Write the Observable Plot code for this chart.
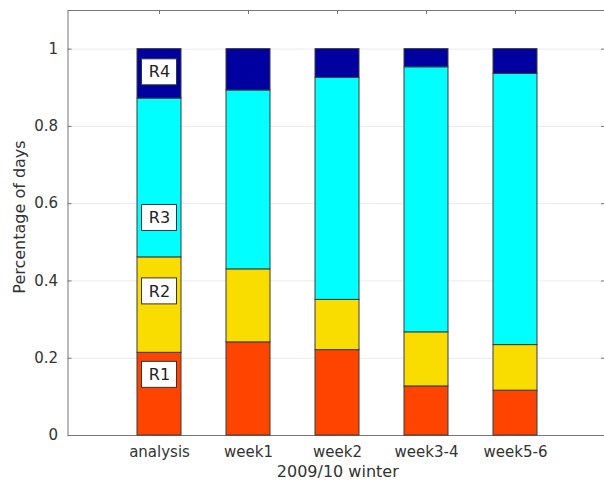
<!DOCTYPE html>
<html>
<head>
<meta charset="utf-8">
<script src="https://cdn.jsdelivr.net/npm/d3@7"></script>
<script src="https://cdn.jsdelivr.net/npm/@observablehq/plot@0.6"></script>
<style>
  html, body { margin: 0; padding: 0; background: #fff; overflow: hidden; }
</style>
</head>
<body>
<div id="chart"></div>
<script>
// Forecast periods of the 2009/10 winter
const periods = ["analysis", "week1", "week2", "week3-4", "week5-6"];

// Weather regimes, stacked from the bottom up
const regimes = ["R1", "R2", "R3", "R4"];
const regimeColors = ["#ff4400", "#f9dd00", "#00ffff", "#0000a0"];

// Fraction of days spent in each regime, per period
const shareR1 = [0.214, 0.241, 0.221, 0.127, 0.116];
const shareR2 = [0.247, 0.189, 0.130, 0.140, 0.118];
const shareR3 = [0.411, 0.463, 0.575, 0.686, 0.702];
const shareR4 = [0.128, 0.107, 0.074, 0.047, 0.064];

// Where the regime names sit on the analysis bar
const labelPositions = [0.157, 0.373, 0.563, 0.940];

// Y axis ticks
const yTicks = [0, 0.2, 0.4, 0.6, 0.8, 1];
const yTickLabels = ["0", "0.2", "0.4", "0.6", "0.8", "1"];
const yMax = 1.1;

const shares = [shareR1, shareR2, shareR3, shareR4];
const rows = [];
periods.forEach((p, i) => {
  regimes.forEach((r, j) => rows.push({period: p, regime: r, share: shares[j][i]}));
});
const labelRows = regimes.map((r, j) => ({period: periods[0], regime: r, y: labelPositions[j]}));

const W = 604, H = 480;
const M = {left: 67.5, right: 0, top: 10, bottom: 45};
const frameW = W - M.left - M.right;
const axisGray = "#777";

// The axes box continues past the right edge of the page, so its right side
// lies outside the SVG.
const chart = Plot.plot({
  width: W,
  height: H,
  marginLeft: M.left,
  marginRight: M.right,
  marginTop: M.top,
  marginBottom: M.bottom,
  style: {
    fontFamily: "DejaVu Sans",
    fontSize: "15px",
    color: "#333",
    background: "#fff",
    overflow: "hidden"
  },
  x: {
    type: "band",
    domain: periods,
    range: [M.left, W + 3],
    paddingInner: 0.511,
    paddingOuter: 0.7555,
    tickSize: 0,
    tickPadding: 11,
    label: null
  },
  y: {
    domain: [0, yMax],
    ticks: yTicks,
    tickFormat: (d) => yTickLabels[yTicks.indexOf(d)],
    tickSize: 0,
    tickPadding: 10,
    grid: true,
    label: null
  },
  color: {domain: regimes, range: regimeColors},
  marks: [
    Plot.frame({stroke: axisGray, insetRight: -20}),
    // inward tick marks on all four sides
    Plot.ruleX(periods, {x: (d) => d, y1: 0, y2: 0, insetTop: -4, stroke: axisGray}),
    Plot.ruleX(periods, {x: (d) => d, y1: yMax, y2: yMax, insetBottom: -4, stroke: axisGray}),
    Plot.ruleY(yTicks, {y: (d) => d, insetRight: frameW - 4, stroke: axisGray}),
    Plot.ruleY(yTicks, {y: (d) => d, insetLeft: frameW - 3, stroke: axisGray}),
    // stacked regime shares
    Plot.barY(rows, {x: "period", y: "share", fill: "regime", stroke: "#3a3a3a", strokeWidth: 1}),
    // regime name boxes
    Plot.barY(labelRows, {
      x: "period", y1: "y", y2: "y",
      insetTop: -13, insetBottom: -13, insetLeft: 4.5, insetRight: 4.5,
      fill: "#fff", stroke: "#333", strokeWidth: 1
    }),
    Plot.text(labelRows, {x: "period", y: "y", text: "regime", fontSize: 16, fill: "#222"}),
    // axis titles
    Plot.text(["Percentage of days"], {
      text: (d) => d, frameAnchor: "left", rotate: -90,
      textAnchor: "middle", lineAnchor: "middle",
      dx: -48.5, dy: -6, fontSize: 16, fill: "#333"
    }),
    Plot.text(["2009/10 winter"], {
      text: (d) => d, frameAnchor: "bottom",
      textAnchor: "middle", lineAnchor: "middle",
      dx: 1.5, dy: 36.5, fontSize: 16, fill: "#333"
    })
  ]
});

document.getElementById("chart").appendChild(chart);
</script>
</body>
</html>
